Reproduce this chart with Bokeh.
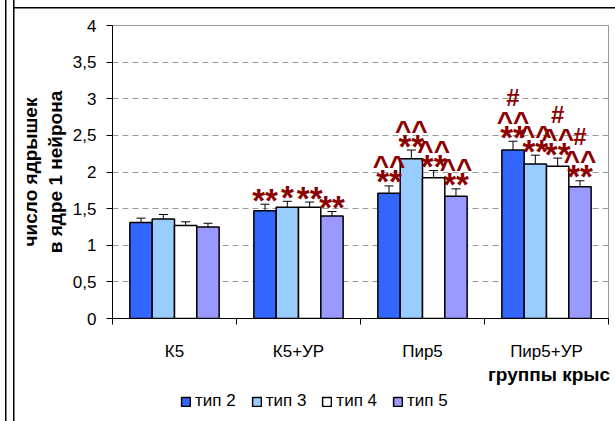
from bokeh.plotting import figure
from bokeh.layouts import column
from bokeh.models import (ColumnDataSource, FixedTicker, CustomJSTickFormatter, Whisker,
                          TeeHead, Legend, LegendItem, Range1d, LinearAxis)
from bokeh.core.properties import value
from bokeh.embed import file_html
from bokeh.resources import INLINE

# ---------------- data ----------------
categories = ["К5", "К5+УР", "Пир5", "Пир5+УР"]
series_names = ["тип 2", "тип 3", "тип 4", "тип 5"]
series_colors = ["#3366FF", "#99CCFF", "#FFFFFF", "#9999FF"]

t2 = [1.31, 1.47, 1.71, 2.30]
t3 = [1.36, 1.52, 2.18, 2.11]
t4 = [1.27, 1.52, 1.92, 2.08]
t5 = [1.25, 1.40, 1.67, 1.80]

t2_err = [0.06, 0.09, 0.10, 0.12]
t3_err = [0.06, 0.08, 0.12, 0.12]
t4_err = [0.05, 0.07, 0.10, 0.11]
t5_err = [0.05, 0.06, 0.10, 0.08]

t2_marks = [[], ["**"], ["**", "^^"], ["**", "^^", "#"]]
t3_marks = [[], ["*"], ["**", "^^"], ["**", "^^"]]
t4_marks = [[], ["**"], ["**", "^^"], ["**", "^^", "#"]]
t5_marks = [[], ["**"], ["**", "^^"], ["**", "^^", "#"]]

y_ticks = [0, 0.5, 1, 1.5, 2, 2.5, 3, 3.5, 4]
y_title = "число ядрышек\nв ядре 1 нейрона"
x_title = "группы крыс"

series_vals = [t2, t3, t4, t5]
series_errs = [t2_err, t3_err, t4_err, t5_err]
series_marks = [t2_marks, t3_marks, t4_marks, t5_marks]

FONT = "Liberation Sans"
LEFT_LINES = ("inset 5px 0 0 0 white, inset 6.5px 0 0 0 black, "
              "inset 13px 0 0 0 white, inset 14.5px 0 0 0 black")

# ---------------- main figure ----------------
p = figure(frame_width=496, frame_height=293,
           x_range=Range1d(0, len(categories)), y_range=Range1d(0, 4),
           output_backend="svg", toolbar_location=None,
           min_border_left=112, min_border_right=7, min_border_top=25, min_border_bottom=0)
p.outline_line_color = "#999999"
p.outline_line_width = 1
p.background_fill_color = "white"
p.border_fill_alpha = 0
p.styles = {"box-shadow": LEFT_LINES + ", inset 0 7px 0 0 white, inset 0 8.5px 0 0 black"}

# y axis
p.yaxis.ticker = FixedTicker(ticks=y_ticks)
p.yaxis.formatter = CustomJSTickFormatter(code="return tick.toString().replace('.', ',')")
p.yaxis.major_label_text_font = FONT
p.yaxis.major_label_text_font_size = "17px"
p.yaxis.major_label_text_color = "black"
p.yaxis.major_tick_in = 0
p.yaxis.major_tick_out = 6
p.yaxis.minor_tick_line_color = None
p.yaxis.axis_line_color = "black"
p.yaxis.major_tick_line_color = "black"
p.yaxis.major_label_standoff = 10
p.yaxis.axis_label = y_title
p.yaxis.axis_label_text_font = FONT
p.yaxis.axis_label_text_font_style = "bold"
p.yaxis.axis_label_text_font_size = "19px"
p.yaxis.axis_label_text_color = "black"
p.yaxis.axis_label_standoff = 4

# x axis
centers = [i + 0.5 for i in range(len(categories))]
p.xaxis.ticker = FixedTicker(ticks=centers, minor_ticks=list(range(len(categories) + 1)))
p.xaxis.major_label_overrides = {c: name for c, name in zip(centers, categories)}
p.xaxis.major_label_text_font = FONT
p.xaxis.major_label_text_font_size = "17px"
p.xaxis.major_label_text_color = "black"
p.xaxis.major_tick_line_color = None
p.xaxis.major_tick_in = 0
p.xaxis.major_tick_out = 0
p.xaxis.minor_tick_in = 0
p.xaxis.minor_tick_out = 6
p.xaxis.minor_tick_line_color = "black"
p.xaxis.axis_line_color = "black"
p.xaxis.major_label_standoff = 17

# x axis title, right-aligned under the last group
title_pos = 3.52
xt_axis = LinearAxis(ticker=FixedTicker(ticks=[title_pos]),
                     major_label_overrides={title_pos: x_title},
                     axis_line_color=None, major_tick_line_color=None,
                     minor_tick_line_color=None, major_tick_in=0, major_tick_out=0,
                     minor_tick_in=0, minor_tick_out=0, major_label_standoff=0,
                     major_label_text_font=FONT, major_label_text_font_style="bold",
                     major_label_text_font_size="19px", major_label_text_color="black")
p.add_layout(xt_axis, "below")

# grid
p.xgrid.visible = False
p.ygrid.ticker = FixedTicker(ticks=y_ticks)
p.ygrid.grid_line_color = "#999999"
p.ygrid.grid_line_dash = "6 4"
p.ygrid.grid_line_width = 1

# ---------------- legend strip (its own figure, aligned under the main one) ----------------
lg = figure(width=615, height=35, x_range=Range1d(0, len(categories)), y_range=Range1d(10, 11),
            output_backend="svg", toolbar_location=None,
            x_axis_location=None, y_axis_location=None,
            min_border=0, min_border_left=0, min_border_right=0,
            min_border_top=0, min_border_bottom=0)
lg.xgrid.visible = False
lg.ygrid.visible = False
lg.outline_line_color = None
lg.background_fill_alpha = 0
lg.border_fill_alpha = 0
lg.styles = {"box-shadow": LEFT_LINES}

# bars, error bars, significance marks
bar_w = 0.18
offsets = [-0.27, -0.09, 0.09, 0.27]
mark_size = {"*": "33px", "**": "33px", "^^": "28px", "#": "24px"}
row_offsets = {0: -4, 1: -20, 2: -44}
ann = dict(x=[], y=[], text=[], yoff=[], size=[])
items = []
for k in range(len(series_names)):
    xs = [c + offsets[k] for c in centers]
    vals = series_vals[k]
    errs = series_errs[k]
    src = ColumnDataSource(dict(x=xs, top=vals, upper=[v + e for v, e in zip(vals, errs)]))
    p.vbar(x="x", top="top", width=bar_w, bottom=0, source=src,
           fill_color=series_colors[k], line_color="black", line_width=1.5)
    # same series in the legend strip (its y range lies above the data, so only the swatch shows)
    r = lg.vbar(x="x", top="top", width=bar_w, bottom=0, source=src,
                fill_color=series_colors[k], line_color="black", line_width=1.5)
    items.append(LegendItem(label=series_names[k], renderers=[r]))
    w = Whisker(base="x", upper="upper", lower="top", source=src, dimension="height",
                line_color="black", line_width=1,
                upper_head=TeeHead(size=9, line_color="black", line_width=1), lower_head=None)
    p.add_layout(w)
    for i, marks in enumerate(series_marks[k]):
        for j, m in enumerate(marks):
            ann["x"].append(xs[i])
            ann["y"].append(vals[i] + errs[i])
            ann["text"].append(m)
            ann["yoff"].append(row_offsets[j])
            ann["size"].append(mark_size[m])

ann_src = ColumnDataSource(ann)
p.text(x="x", y="y", text="text", y_offset="yoff", source=ann_src,
       text_font=value(FONT), text_font_style="bold", text_font_size="size",
       text_color="#8B0000", text_align="center", text_baseline="alphabetic")

legend = Legend(items=items, orientation="horizontal", location=(68, 11),
                label_text_font=FONT, label_text_font_size="17px", label_text_color="black",
                glyph_width=11, glyph_height=11, label_standoff=4, spacing=15,
                padding=0, margin=0, border_line_color=None, background_fill_alpha=0)
lg.add_layout(legend)

layout = column(p, lg, spacing=0)
open("out.html", "w").write(file_html(layout, INLINE))
